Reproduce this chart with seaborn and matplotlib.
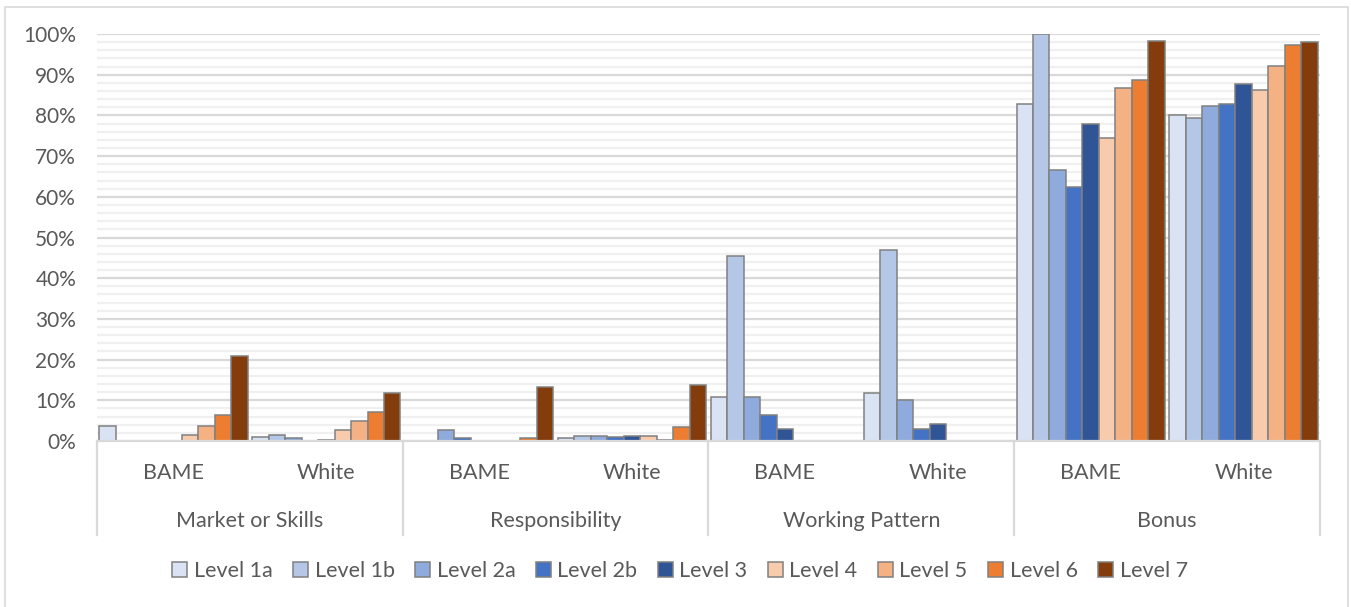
import numpy as np
import pandas as pd
import seaborn as sns
import matplotlib.pyplot as plt
from matplotlib.patches import Rectangle
from matplotlib.lines import Line2D
import matplotlib.transforms as mtransforms

# categories and sub-groups
categories = ["Market or Skills", "Responsibility", "Working Pattern", "Bonus"]
ethnicities = ["BAME", "White"]
levels = ["Level 1a", "Level 1b", "Level 2a", "Level 2b", "Level 3",
          "Level 4", "Level 5", "Level 6", "Level 7"]

# share of staff receiving each payment (%), one list per category/ethnicity
market_bame = [3.6, 0, 0, 0, 0, 1.5, 3.6, 6.4, 20.9]
market_white = [0.9, 1.4, 0.7, 0, 0.2, 2.6, 4.8, 7.1, 11.8]
resp_bame = [0, 0, 2.6, 0.8, 0, 0, 0, 0.8, 13.3]
resp_white = [0.8, 1.2, 1.2, 1.0, 1.2, 1.3, 0.3, 3.5, 13.8]
work_bame = [10.7, 45.4, 10.9, 6.3, 2.9, 0, 0, 0, 0]
work_white = [11.7, 46.9, 10.0, 2.9, 4.2, 0, 0, 0, 0]
bonus_bame = [82.8, 100.0, 66.5, 62.5, 77.8, 74.5, 86.7, 88.8, 98.4]
bonus_white = [80.2, 79.3, 82.3, 82.7, 87.7, 86.2, 92.2, 97.3, 98.0]

level_colors = ["#DAE3F3", "#B4C7E7", "#8FAADC", "#4472C4", "#2F5597",
                "#F8CBAD", "#F4B183", "#ED7D31", "#843C0C"]

series = [market_bame, market_white, resp_bame, resp_white,
          work_bame, work_white, bonus_bame, bonus_white]
groups = [f"{c}|{e}" for c in categories for e in ethnicities]

rows = []
for g, vals in zip(groups, series):
    for lvl, v in zip(levels, vals):
        rows.append({"group": g, "level": lvl, "value": v / 100})
df = pd.DataFrame(rows)

text_col = "#595959"
grid_col = "#D9D9D9"
plt.rcParams["font.family"] = ["Lato", "DejaVu Sans"]

fig = plt.figure(figsize=(13.51, 6.07), dpi=100)
ax = fig.add_axes([97 / 1351, 1 - 441 / 607, (1320 - 97) / 1351, (441 - 34) / 607])

sns.barplot(data=df, x="group", y="value", hue="level", order=groups,
            hue_order=levels, palette=level_colors, width=0.97,
            edgecolor="#808080", linewidth=1.1, saturation=1, ax=ax, legend=False)

ax.set_ylim(0, 1.0)
ax.set_xlim(-0.5, len(groups) - 0.5)
ax.set_yticks(np.arange(0, 1.01, 0.1))
ax.set_yticklabels([f"{int(round(t * 100))}%" for t in np.arange(0, 1.01, 0.1)])
ax.set_yticks(np.arange(0, 1.01, 0.02), minor=True)
ax.grid(axis="y", which="minor", color="#F0F0F0", linewidth=1.6)
ax.grid(axis="y", which="major", color=grid_col, linewidth=1.6)
ax.set_axisbelow(True)
ax.tick_params(axis="y", which="both", length=0, labelsize=15, labelcolor=text_col, pad=15)
ax.tick_params(axis="x", length=0)
ax.set_xticklabels([])
ax.set_xlabel("")
ax.set_ylabel("")
for s in ["top", "right", "left"]:
    ax.spines[s].set_visible(False)
ax.spines["bottom"].set_color(grid_col)
ax.spines["bottom"].set_linewidth(1.6)

# multi-level category axis
trans = mtransforms.blended_transform_factory(ax.transData, ax.transAxes)
y_sub = -(473 - 441) / 407
y_cat = -(521 - 441) / 407
y_end = -(535 - 441) / 407
for i, g in enumerate(groups):
    ax.text(i, y_sub, g.split("|")[1], transform=trans, ha="center", va="center",
            fontsize=15.5, color=text_col)
for j, c in enumerate(categories):
    ax.text(2 * j + 0.5, y_cat, c, transform=trans, ha="center", va="center",
            fontsize=15.5, color=text_col)
for k in range(len(categories) + 1):
    ax.add_line(Line2D([2 * k - 0.5, 2 * k - 0.5], [0, y_end], transform=trans,
                       color=grid_col, linewidth=1.6, clip_on=False))

# legend
handles = [Rectangle((0, 0), 1, 1, facecolor=c, edgecolor="#808080", linewidth=1.1)
           for c in level_colors]
fig.legend(handles, levels, loc="center", bbox_to_anchor=(680 / 1351, 1 - 571 / 607),
           ncol=9, frameon=False, fontsize=15.5, labelcolor=text_col,
           handlelength=0.7, handleheight=0.7, handletextpad=0.3, columnspacing=0.95)

# chart border
fig.patches.append(Rectangle((5 / 1351, -0.01), 1343 / 1351, 1 - 7 / 607 + 0.01,
                             transform=fig.transFigure, fill=False,
                             edgecolor=grid_col, linewidth=1.2))

fig.savefig("out.png", dpi=100)
